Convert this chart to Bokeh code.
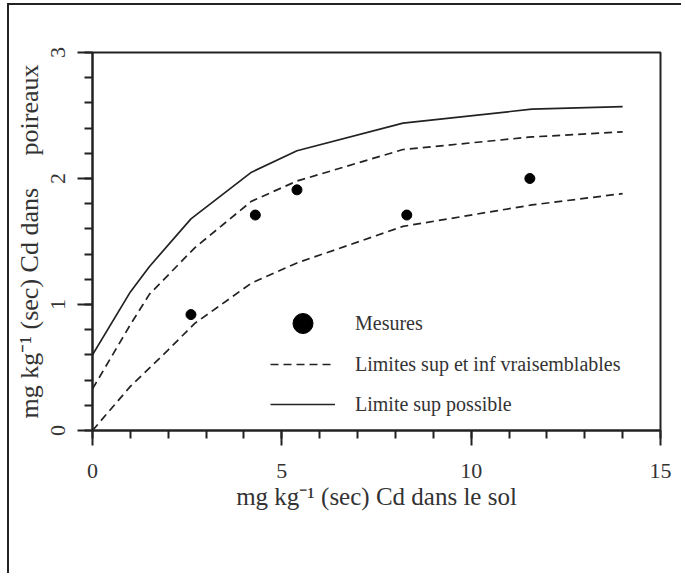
from bokeh.plotting import figure
from bokeh.models import Range1d, SingleIntervalTicker, Legend, LegendItem
from bokeh.embed import file_html
from bokeh.resources import INLINE

# ---- data ----
mes_x = [2.6, 4.3, 5.4, 8.3, 11.55]
mes_y = [0.92, 1.71, 1.91, 1.71, 2.0]

sup_possible_x = [0, 1.0, 1.5, 2.6, 4.2, 5.4, 8.2, 11.6, 14]
sup_possible_y = [0.6, 1.1, 1.3, 1.68, 2.05, 2.22, 2.44, 2.55, 2.57]

sup_vrai_x = [0, 1.0, 1.5, 2.7, 4.2, 5.4, 8.2, 11.6, 14]
sup_vrai_y = [0.33, 0.84, 1.08, 1.45, 1.82, 1.98, 2.23, 2.33, 2.37]

inf_vrai_x = [0, 1.0, 2.0, 2.7, 4.2, 5.4, 8.2, 11.6, 14]
inf_vrai_y = [0, 0.35, 0.64, 0.85, 1.17, 1.33, 1.62, 1.79, 1.88]

x_label = "mg kg⁻¹ (sec) Cd dans le sol"
y_label = "mg kg⁻¹ (sec) Cd dans\u00a0\u00a0\u00a0\u00a0 poireaux"
legend_labels = ["Mesures", "Limites sup et inf vraisemblables", "Limite sup possible"]

FONT = "Liberation Serif"
INK = "#222222"

p = figure(width=674, height=570, output_backend="svg", toolbar_location=None,
           x_range=Range1d(0, 15), y_range=Range1d(0, 3),
           min_border_left=83, min_border_top=47, min_border_right=23, min_border_bottom=145)
p.styles = {"border-top": "2px solid #222", "border-left": "2px solid #222",
            "margin-left": "7px", "margin-top": "3px"}

p.grid.visible = False
p.outline_line_color = INK
p.outline_line_width = 2
p.background_fill_color = "white"
p.border_fill_color = "white"

p.xaxis.ticker = SingleIntervalTicker(interval=5, num_minor_ticks=5)
p.yaxis.ticker = SingleIntervalTicker(interval=1, num_minor_ticks=5)
for ax in (p.xaxis, p.yaxis):
    ax.axis_line_color = INK
    ax.axis_line_width = 2
    ax.major_tick_line_color = INK
    ax.major_tick_line_width = 2
    ax.minor_tick_line_color = INK
    ax.minor_tick_line_width = 2
    ax.major_tick_out = 15
    ax.major_tick_in = 0
    ax.minor_tick_out = 8
    ax.minor_tick_in = 0
    ax.major_label_text_font = FONT
    ax.major_label_text_font_size = "22px"
    ax.major_label_text_color = "#333333"
    ax.axis_label_text_font = FONT
    ax.axis_label_text_font_style = "normal"
    ax.axis_label_text_color = "#333333"

p.xaxis.axis_label = x_label
p.yaxis.axis_label = y_label
p.xaxis.axis_label_text_font_size = "25px"
p.yaxis.axis_label_text_font_size = "26px"
p.xaxis.major_label_standoff = 18
p.xaxis.axis_label_standoff = 2
p.yaxis.major_label_orientation = "vertical"
p.yaxis.major_label_standoff = 13
p.yaxis.axis_label_standoff = 4

r_sol = p.line(sup_possible_x, sup_possible_y, line_color=INK, line_width=1.7)
r_sup = p.line(sup_vrai_x, sup_vrai_y, line_color=INK, line_width=1.7, line_dash="8 5")
r_inf = p.line(inf_vrai_x, inf_vrai_y, line_color=INK, line_width=1.7, line_dash="8 5")
r_mes = p.scatter(mes_x, mes_y, size=10, marker="circle", fill_color="black", line_color="black")

common = dict(padding=0, margin=0, spacing=0, glyph_width=65, label_standoff=20,
              label_text_font=FONT, label_text_font_size="20px", label_text_color="#333333",
              background_fill_alpha=0, border_line_alpha=0)
legend_mes = Legend(items=[LegendItem(label=legend_labels[0], renderers=[r_mes])],
                    location=(178, 82), glyph_height=50, **common)
legend_lines = Legend(items=[LegendItem(label=legend_labels[1], renderers=[r_sup]),
                             LegendItem(label=legend_labels[2], renderers=[r_sol])],
                      location=(178, 6), glyph_height=40, **common)
p.add_layout(legend_mes, "center")
p.add_layout(legend_lines, "center")

open("out.html", "w").write(file_html(p, INLINE))
